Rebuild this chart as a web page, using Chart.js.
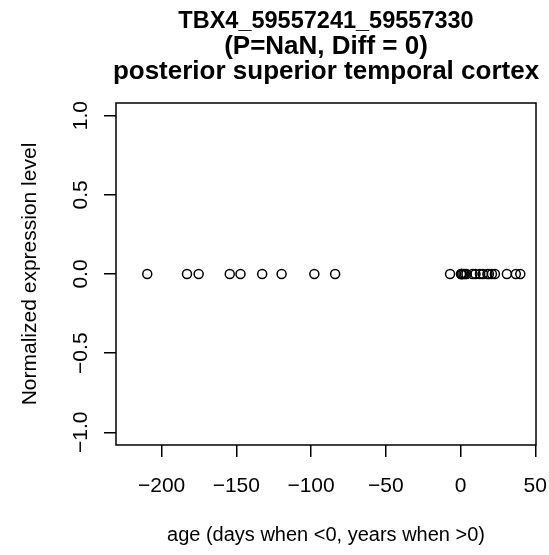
<!DOCTYPE html>
<html>
<head>
<meta charset="utf-8">
<script src="https://cdn.jsdelivr.net/npm/chart.js@4.4.1/dist/chart.umd.min.js"></script>
<style>
    html, body { margin: 0; padding: 0; background: #fff; }
    #wrap { width: 549px; height: 555px; }
</style>
</head>
<body>
<div id="wrap"><canvas id="scatterChart" width="549" height="555"></canvas></div>
<script>
const titleLines = ['TBX4_59557241_59557330', '(P=NaN, Diff = 0)', 'posterior superior temporal cortex'];
const xLabel = 'age (days when <0, years when >0)';
const yLabel = 'Normalized expression level';

// ages: days before birth are negative, years after birth positive
const ages = [-209.6, -183, -175.2, -154.4, -147.2, -132.7, -119.7, -97.8, -83.9,
    -7, 0.3, 0.5, 0.8, 1, 2, 3, 4, 8, 10, 13, 15, 18, 19, 21, 23, 31, 37, 40];
const expression = [0, 0, 0, 0, 0, 0, 0, 0, 0,
    0, 0, 0, 0, 0, 0, 0, 0, 0, 0, 0, 0, 0, 0, 0, 0, 0, 0, 0];

const xTicks = [-200, -150, -100, -50, 0, 50];
const yTicks = [-1, -0.5, 0, 0.5, 1];
const xRange = [-230.5, 50.5];
const yRange = [-1.08, 1.08];

const FONT = 'Liberation Sans, Arial, Helvetica, sans-serif';

document.addEventListener("DOMContentLoaded", function () {
    initScatter();
});

function fmtTick(v, digits) {
    const s = Math.abs(v).toFixed(digits);
    return v < 0 ? '\u2212' + s : s;
}

const frameAndTitle = {
    id: 'frameAndTitle',
    afterDraw(chart) {
        const ctx = chart.ctx;
        const a = chart.chartArea;
        ctx.save();
        ctx.strokeStyle = '#000';
        ctx.lineWidth = 1.5;
        ctx.strokeRect(a.left, a.top, a.right - a.left, a.bottom - a.top);

        ctx.fillStyle = '#000';
        ctx.textAlign = 'center';
        ctx.textBaseline = 'alphabetic';
        const cx = (a.left + a.right) / 2;
        const baselines = [28, 53.5, 79];
        const sizes = [23.5, 26, 26];
        titleLines.forEach(function (line, i) {
            ctx.font = 'bold ' + sizes[i] + 'px ' + FONT;
            ctx.fillText(line, cx, baselines[i]);
        });
        ctx.restore();
    }
};

function initScatter() {
    const points = ages.map(function (a, i) {
        return { x: a, y: expression[i] };
    });

    const tickGrid = {
        display: true,
        drawOnChartArea: false,
        drawTicks: true,
        tickLength: 12,
        color: '#000',
        lineWidth: 1.5
    };

    const ctx = document.getElementById('scatterChart').getContext('2d');
    new Chart(ctx, {
        type: 'scatter',
        data: {
            datasets: [{
                data: points,
                pointStyle: 'circle',
                pointRadius: 4.5,
                pointHoverRadius: 4.5,
                pointBorderWidth: 1.5,
                borderColor: '#000',
                backgroundColor: 'rgba(0,0,0,0)',
                showLine: false,
                clip: false
            }]
        },
        options: {
            responsive: false,
            animation: false,
            devicePixelRatio: 1,
            layout: { padding: { top: 103, right: 13, bottom: 0, left: 0 } },
            plugins: {
                legend: { display: false },
                tooltip: { enabled: false }
            },
            scales: {
                x: {
                    type: 'linear',
                    min: xRange[0],
                    max: xRange[1],
                    afterBuildTicks: function (s) {
                        s.ticks = xTicks.map(function (v) { return { value: v }; });
                    },
                    afterFit: function (s) {
                        s.height = 110;
                        s.paddingLeft = 0;
                        s.paddingRight = 0;
                    },
                    grid: tickGrid,
                    border: { display: false },
                    ticks: {
                        color: '#000',
                        font: { family: FONT, size: 21 },
                        padding: 17,
                        maxRotation: 0,
                        callback: function (v) { return fmtTick(v, 0); }
                    },
                    title: {
                        display: true,
                        text: xLabel,
                        color: '#000',
                        font: { family: FONT, size: 20 },
                        padding: { top: 0, bottom: 8 }
                    }
                },
                y: {
                    type: 'linear',
                    min: yRange[0],
                    max: yRange[1],
                    afterBuildTicks: function (s) {
                        s.ticks = yTicks.map(function (v) { return { value: v }; });
                    },
                    afterFit: function (s) {
                        s.width = 116;
                        s.paddingTop = 0;
                        s.paddingBottom = 0;
                    },
                    grid: tickGrid,
                    border: { display: false },
                    ticks: {
                        color: '#000',
                        font: { family: FONT, size: 21 },
                        padding: 2,
                        minRotation: 90,
                        maxRotation: 90,
                        crossAlign: 'center',
                        callback: function (v) { return fmtTick(v, 1); }
                    },
                    title: {
                        display: true,
                        text: yLabel,
                        color: '#000',
                        font: { family: FONT, size: 21 },
                        padding: { top: 18, bottom: 0 }
                    }
                }
            }
        },
        plugins: [frameAndTitle]
    });
}
</script>
</body>
</html>
